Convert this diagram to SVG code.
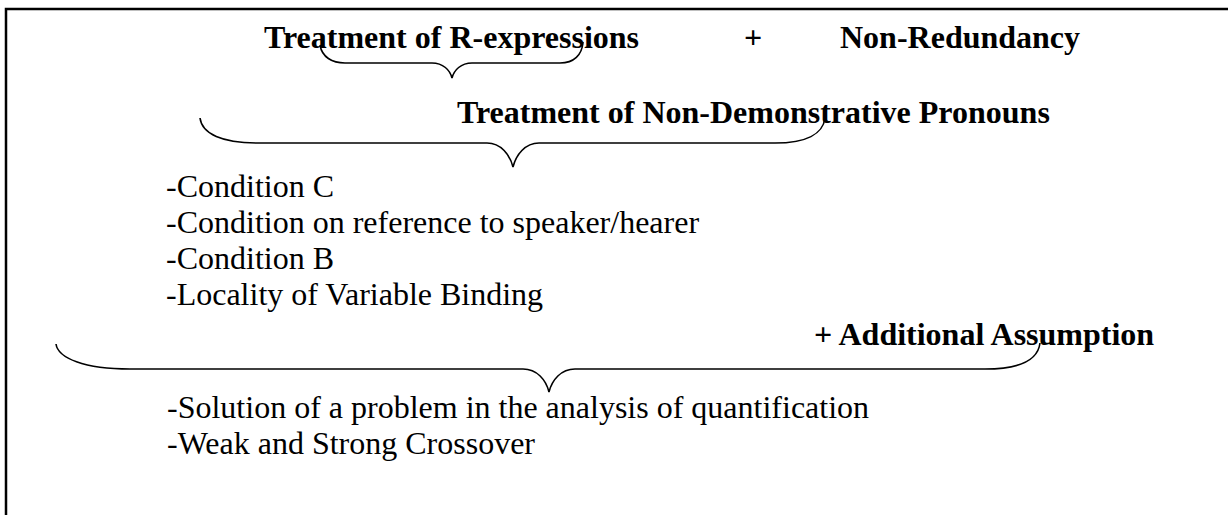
<svg xmlns="http://www.w3.org/2000/svg" width="1228" height="515" viewBox="0 0 1228 515">
<style>
.b{font-family:"Liberation Serif","Times New Roman",serif;font-size:32px;font-weight:bold;fill:#000}
.r{font-family:"Liberation Serif","Times New Roman",serif;font-size:32px;fill:#000}
.br{fill:none;stroke:#000;stroke-width:1.6}
.frame{fill:none;stroke:#000;stroke-width:2.5}
</style>
<rect width="1228" height="515" fill="#fff"/>
<path class="frame" d="M6,515 L6,9 L1228,9"/>
<g id="top">
<text class="b" x="264" y="48">Treatment of R-expressions</text>
<text class="b" x="744" y="48">+</text>
<text class="b" x="840" y="48">Non-Redundancy</text>
</g>
<g id="pronouns">
<text class="b" x="457" y="123">Treatment of Non-Demonstrative Pronouns</text>
</g>
<g id="conditions">
<text class="r" x="166" y="197">-Condition C</text>
<text class="r" x="166" y="233">-Condition on reference to speaker/hearer</text>
<text class="r" x="166" y="269">-Condition B</text>
<text class="r" x="166" y="305">-Locality of Variable Binding</text>
</g>
<g id="additional">
<text class="b" x="814" y="345">+ Additional Assumption</text>
</g>
<g id="results">
<text class="r" x="167" y="418">-Solution of a problem in the analysis of quantification</text>
<text class="r" x="167" y="454">-Weak and Strong Crossover</text>
</g>
<g id="connectors">
<path class="br" d="M320,45 C322,57 332,63 345,63 L432,63 C443,63 450,70 452,78 C454,70 461,63 472,63 L560,63 C574,63 582,55 583,42"/>
<path class="br" d="M200,118 C202,134 222,143 258,143 L487,143 C501,143 510,155 513,167 C516,155 525,143 539,143 L775,143 C806,143 823,134 825,118"/>
<path class="br" d="M56,344 C58,358 84,369 130,369 L523,369 C537,369 546,380 549,392 C552,380 561,369 575,369 L985,369 C1020,369 1038,360 1040,343"/>
</g>
</svg>
